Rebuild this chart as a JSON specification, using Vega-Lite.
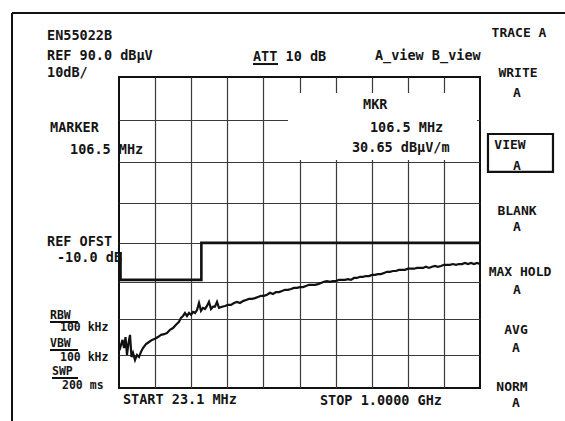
{
  "$schema": "https://vega.github.io/schema/vega-lite/v6.json",
  "width": 361,
  "height": 311,
  "autosize": {"type": "none"},
  "padding": {"left": 119, "top": 77, "right": 85, "bottom": 33},
  "background": "#ffffff",
  "config": {
    "view": {"stroke": "#111111", "strokeWidth": 2},
    "text": {"font": "DejaVu Sans Mono", "fontWeight": "bold", "fontSize": 13.5, "color": "#151515"}
  },
  "datasets": {
    "trace": [
      {"f": 24.5, "v": 21.4}, {"f": 28.5, "v": 22.9}, {"f": 32.6, "v": 24.3}, {"f": 36.6, "v": 22.0},
      {"f": 40.7, "v": 25.1}, {"f": 44.7, "v": 20.0}, {"f": 48.8, "v": 23.4}, {"f": 52.9, "v": 25.7},
      {"f": 56.9, "v": 19.4}, {"f": 61.0, "v": 20.6}, {"f": 66.4, "v": 18.5}, {"f": 71.8, "v": 20.0},
      {"f": 77.2, "v": 19.4}, {"f": 82.6, "v": 20.9}, {"f": 88.0, "v": 22.0}, {"f": 96.2, "v": 23.1},
      {"f": 104.3, "v": 23.7}, {"f": 112.4, "v": 24.3}, {"f": 120.5, "v": 24.6}, {"f": 128.6, "v": 25.1},
      {"f": 136.8, "v": 25.7}, {"f": 144.9, "v": 25.9}, {"f": 153.0, "v": 26.2}, {"f": 161.1, "v": 27.1},
      {"f": 169.2, "v": 27.6}, {"f": 177.3, "v": 28.5}, {"f": 185.5, "v": 29.3}, {"f": 190.9, "v": 30.4},
      {"f": 196.3, "v": 30.9}, {"f": 201.7, "v": 31.7}, {"f": 207.1, "v": 30.9}, {"f": 212.5, "v": 31.7},
      {"f": 218.0, "v": 31.2}, {"f": 223.4, "v": 32.0}, {"f": 228.8, "v": 31.7}, {"f": 234.2, "v": 32.5},
      {"f": 239.6, "v": 34.4}, {"f": 245.0, "v": 32.3}, {"f": 250.4, "v": 33.1}, {"f": 255.8, "v": 32.8},
      {"f": 261.2, "v": 33.6}, {"f": 266.6, "v": 34.7}, {"f": 272.1, "v": 32.8}, {"f": 277.5, "v": 33.4},
      {"f": 282.9, "v": 33.4}, {"f": 288.3, "v": 34.7}, {"f": 293.7, "v": 33.1}, {"f": 301.8, "v": 33.4},
      {"f": 309.9, "v": 33.6}, {"f": 318.1, "v": 33.9}, {"f": 326.2, "v": 33.9}, {"f": 334.3, "v": 34.4},
      {"f": 342.4, "v": 34.7}, {"f": 350.5, "v": 34.4}, {"f": 358.6, "v": 34.9}, {"f": 366.8, "v": 35.2},
      {"f": 374.9, "v": 35.5}, {"f": 383.0, "v": 35.5}, {"f": 391.1, "v": 35.7}, {"f": 399.2, "v": 36.0},
      {"f": 407.3, "v": 36.3}, {"f": 415.5, "v": 36.3}, {"f": 423.6, "v": 36.6}, {"f": 431.7, "v": 37.1},
      {"f": 439.8, "v": 36.8}, {"f": 447.9, "v": 37.3}, {"f": 456.0, "v": 37.3}, {"f": 464.2, "v": 37.6},
      {"f": 472.3, "v": 37.9}, {"f": 480.4, "v": 37.9}, {"f": 488.5, "v": 38.1}, {"f": 496.6, "v": 38.4},
      {"f": 504.8, "v": 38.4}, {"f": 512.9, "v": 38.6}, {"f": 521.0, "v": 38.6}, {"f": 529.1, "v": 38.9},
      {"f": 537.2, "v": 39.2}, {"f": 545.3, "v": 39.2}, {"f": 553.5, "v": 39.2}, {"f": 561.6, "v": 39.4},
      {"f": 569.7, "v": 39.7}, {"f": 577.8, "v": 40.0}, {"f": 585.9, "v": 40.2}, {"f": 594.0, "v": 40.0},
      {"f": 602.2, "v": 40.2}, {"f": 610.3, "v": 40.2}, {"f": 618.4, "v": 40.5}, {"f": 626.5, "v": 40.5},
      {"f": 634.6, "v": 40.5}, {"f": 642.7, "v": 40.7}, {"f": 650.9, "v": 40.5}, {"f": 659.0, "v": 41.0},
      {"f": 667.1, "v": 41.0}, {"f": 675.2, "v": 41.3}, {"f": 683.3, "v": 41.3}, {"f": 691.5, "v": 41.5},
      {"f": 699.6, "v": 41.5}, {"f": 707.7, "v": 41.8}, {"f": 715.8, "v": 41.8}, {"f": 723.9, "v": 42.0},
      {"f": 732.0, "v": 42.0}, {"f": 740.2, "v": 42.3}, {"f": 748.3, "v": 42.6}, {"f": 756.4, "v": 42.6},
      {"f": 764.5, "v": 42.8}, {"f": 772.6, "v": 42.8}, {"f": 780.8, "v": 43.1}, {"f": 788.9, "v": 43.1},
      {"f": 797.0, "v": 43.1}, {"f": 805.1, "v": 43.4}, {"f": 813.2, "v": 43.4}, {"f": 821.4, "v": 43.4},
      {"f": 829.5, "v": 43.6}, {"f": 837.6, "v": 43.6}, {"f": 845.7, "v": 43.6}, {"f": 853.8, "v": 43.9},
      {"f": 861.9, "v": 43.6}, {"f": 870.1, "v": 43.9}, {"f": 878.2, "v": 44.1}, {"f": 886.3, "v": 43.9},
      {"f": 894.4, "v": 44.1}, {"f": 902.5, "v": 44.4}, {"f": 910.6, "v": 44.4}, {"f": 918.8, "v": 44.4},
      {"f": 926.9, "v": 44.6}, {"f": 935.0, "v": 44.4}, {"f": 943.1, "v": 44.6}, {"f": 951.2, "v": 44.6},
      {"f": 959.4, "v": 44.9}, {"f": 967.5, "v": 44.6}, {"f": 975.6, "v": 44.9}, {"f": 983.7, "v": 44.6},
      {"f": 991.8, "v": 44.9}, {"f": 1000.0, "v": 44.6}
    ],
    "limit": [
      {"i": 0, "f": 27.2, "v": 47.7},
      {"i": 1, "f": 27.2, "v": 40.5},
      {"i": 2, "f": 246.0, "v": 40.5},
      {"i": 3, "f": 246.0, "v": 50.0},
      {"i": 4, "f": 1000.0, "v": 50.0}
    ],
    "lines": [
      {"f": -266.4, "f2": -266.4, "v": 104.7, "v2": -2.6},
      {"f": -266.4, "f2": 1230.0, "v": 104.7, "v2": 104.7},
      {"f": 385.7, "f2": 453.4, "v": 93.0, "v2": 93.0},
      {"f": -163.6, "f2": -87.8, "v": 29.26, "v2": 29.26},
      {"f": -163.6, "f2": -87.8, "v": 21.43, "v2": 21.43},
      {"f": -158.2, "f2": -87.8, "v": 13.13, "v2": 13.13}
    ],
    "blank": [
      {"f": 480.4, "f2": 991.8, "v": 86.3, "v2": 70.4}
    ],
    "box": [
      {"f": 1021.6, "f2": 1197.5, "v": 76.62, "v2": 67.52}
    ],
    "labels": [
      {"g": "screen", "t": "EN55022B", "f": -171.7, "v": 99.45},
      {"g": "screen", "t": "REF 90.0 dBµV", "f": -171.7, "v": 94.86},
      {"g": "screen", "t": "10dB/", "f": -171.7, "v": 90.92},
      {"g": "screen", "t": "ATT 10 dB", "f": 385.7, "v": 94.62},
      {"g": "screen", "t": "A_view B_view", "f": 715.8, "v": 94.86},
      {"g": "screen", "t": "MKR", "f": 683.4, "v": 83.47},
      {"g": "screen", "t": "106.5  MHz", "f": 702.3, "v": 78.05},
      {"g": "screen", "t": "30.65 dBµV/m", "f": 653.6, "v": 73.28},
      {"g": "screen", "t": "MARKER", "f": -163.6, "v": 78.05},
      {"g": "screen", "t": "106.5  MHz", "f": -109.5, "v": 72.8},
      {"g": "screen", "t": "REF OFST", "f": -171.7, "v": 50.22},
      {"g": "screen", "t": "-10.0 dB", "f": -144.7, "v": 46.14},
      {"g": "screen", "t": "START 23.1 MHz", "f": 33.9, "v": 6.02},
      {"g": "screen", "t": "STOP 1.0000 GHz", "f": 567.0, "v": 5.67},
      {"g": "settings", "t": "RBW", "f": -163.6, "v": 30.89},
      {"g": "settings", "t": "100 kHz", "f": -136.6, "v": 27.59},
      {"g": "settings", "t": "VBW", "f": -163.6, "v": 23.13},
      {"g": "settings", "t": "100 kHz", "f": -136.6, "v": 19.12},
      {"g": "settings", "t": "SWP", "f": -158.2, "v": 14.97},
      {"g": "settings", "t": "200 ms", "f": -131.1, "v": 10.64},
      {"g": "menu", "t": "TRACE A", "f": 1105.5, "v": 100.1},
      {"g": "menu", "t": "WRITE", "f": 1102.8, "v": 90.92},
      {"g": "menu", "t": "A", "f": 1100.1, "v": 86.29},
      {"g": "menu", "t": "VIEW", "f": 1081.1, "v": 74.0},
      {"g": "menu", "t": "A", "f": 1100.1, "v": 68.97},
      {"g": "menu", "t": "BLANK", "f": 1100.1, "v": 57.97},
      {"g": "menu", "t": "A", "f": 1100.1, "v": 54.0},
      {"g": "menu", "t": "MAX HOLD", "f": 1108.2, "v": 42.56},
      {"g": "menu", "t": "A", "f": 1100.1, "v": 37.84},
      {"g": "menu", "t": "AVG", "f": 1097.4, "v": 27.04},
      {"g": "menu", "t": "A", "f": 1097.4, "v": 22.0},
      {"g": "menu", "t": "NORM", "f": 1086.6, "v": 10.32},
      {"g": "menu", "t": "A", "f": 1097.4, "v": 4.97}
    ]
  },
  "encoding": {
    "x": {
      "field": "f",
      "type": "quantitative",
      "scale": {"domain": [23.1, 1000], "nice": false, "zero": false},
      "axis": {
        "values": [120.79, 218.48, 316.17, 413.86, 511.55, 609.24, 706.93, 804.62, 902.31],
        "grid": true, "gridColor": "#3a3a3a", "gridWidth": 1.2,
        "labels": false, "ticks": false, "domain": false, "title": null
      }
    },
    "y": {
      "field": "v",
      "type": "quantitative",
      "scale": {"type": "pow", "exponent": 1.147, "domain": [10, 90], "nice": false, "zero": false},
      "axis": {
        "values": [20, 30, 40, 50, 60, 70, 80],
        "grid": true, "gridColor": "#3a3a3a", "gridWidth": 1.2,
        "labels": false, "ticks": false, "domain": false, "title": null
      }
    }
  },
  "layer": [
    {
      "data": {"name": "blank"},
      "mark": {"type": "rect", "fill": "#ffffff", "stroke": null},
      "encoding": {"x2": {"field": "f2"}, "y2": {"field": "v2"}}
    },
    {
      "data": {"name": "box"},
      "mark": {"type": "rect", "fill": "transparent", "stroke": "#111111", "strokeWidth": 2.2},
      "encoding": {"x2": {"field": "f2"}, "y2": {"field": "v2"}}
    },
    {
      "data": {"name": "lines"},
      "mark": {"type": "rule", "stroke": "#111111", "strokeWidth": 2},
      "encoding": {"x2": {"field": "f2"}, "y2": {"field": "v2"}}
    },
    {
      "data": {"name": "limit"},
      "mark": {"type": "line", "color": "#111111", "strokeWidth": 2.6},
      "encoding": {"order": {"field": "i", "type": "quantitative"}}
    },
    {
      "data": {"name": "trace"},
      "mark": {"type": "line", "color": "#111111", "strokeWidth": 2.2}
    },
    {
      "data": {"name": "labels"},
      "transform": [{"filter": "datum.g == 'screen'"}],
      "mark": {"type": "text", "align": "left", "baseline": "middle"},
      "encoding": {"text": {"field": "t"}}
    },
    {
      "data": {"name": "labels"},
      "transform": [{"filter": "datum.g == 'settings'"}],
      "mark": {"type": "text", "align": "left", "baseline": "middle", "fontSize": 11.5},
      "encoding": {"text": {"field": "t"}}
    },
    {
      "data": {"name": "labels"},
      "transform": [{"filter": "datum.g == 'menu'"}],
      "mark": {"type": "text", "align": "center", "baseline": "middle", "fontSize": 13},
      "encoding": {"text": {"field": "t"}}
    }
  ]
}
